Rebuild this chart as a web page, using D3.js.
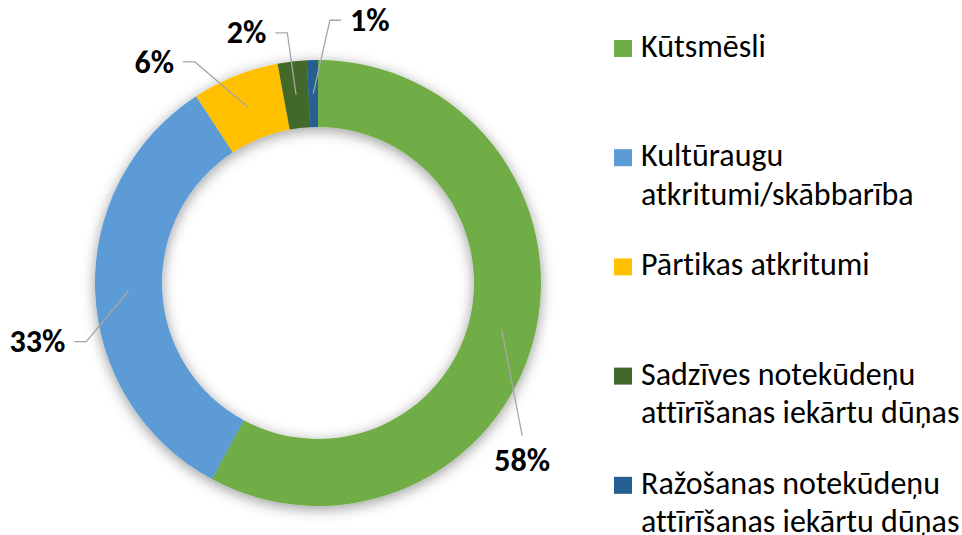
<!DOCTYPE html>
<html>
<head>
<meta charset="utf-8">
<script src="https://cdn.jsdelivr.net/npm/d3@7"></script>
<style>
    html, body { margin: 0; padding: 0; background: #fff; }
    svg { display: block; }
    text { font-family: Calibri, Carlito, "Open Sans", sans-serif; font-variant-ligatures: none; }
</style>
</head>
<body>
<svg id="chart" width="962" height="535"></svg>
<script>
// Chart data
const categories = [
    'Kūtsmēsli',
    'Kultūraugu atkritumi/skābbarība',
    'Pārtikas atkritumi',
    'Sadzīves notekūdeņu attīrīšanas iekārtu dūņas',
    'Ražošanas notekūdeņu attīrīšanas iekārtu dūņas'
];
const shares = [57.9, 32.9, 6.3, 2.1, 0.8];
const colors = ['#70AD47', '#5B9BD5', '#FFC000', '#43682B', '#255E91'];

// where Excel put each data label (polar, from the donut centre)
const labelAngles = [126.8, 255.8, 330.9, 353.0, 2.6];
const labelRadii = [255, 239, 253, 252, 263];
const labelSides = ['below', 'left', 'left', 'left', 'right'];

const svg = d3.select('#chart');
const cx = 318, cy = 283;
const outerR = 223, innerR = 156;

// soft shadow under the ring
const defs = svg.append('defs');
const shadow = defs.append('filter')
    .attr('id', 'ringShadow')
    .attr('x', '-20%').attr('y', '-20%')
    .attr('width', '140%').attr('height', '140%');
shadow.append('feDropShadow')
    .attr('dx', 0)
    .attr('dy', 3)
    .attr('stdDeviation', 7)
    .attr('flood-color', '#000')
    .attr('flood-opacity', 0.4);

const data = categories.map((c, i) => ({ name: c, value: shares[i], color: colors[i] }));

const pie = d3.pie()
    .value(d => d.value)
    .sort(null);
const arcs = pie(data);

const arc = d3.arc()
    .innerRadius(innerR)
    .outerRadius(outerR);

const g = svg.append('g')
    .attr('transform', `translate(${cx},${cy})`);

g.append('g')
    .attr('filter', 'url(#ringShadow)')
    .selectAll('path')
    .data(arcs)
    .join('path')
    .attr('d', arc)
    .attr('fill', d => d.data.color);

// leader lines + labels
const pct = d => Math.round(d.data.value) + '%';

arcs.forEach((d, i) => {
    const start = arc.centroid(d);
    const elbow = d3.pointRadial(labelAngles[i] * Math.PI / 180, labelRadii[i]);
    const side = labelSides[i];
    const pts = [start, elbow];
    let tx, ty, dy, anchor;

    if (side === 'left') {
        pts.push([elbow[0] - 12, elbow[1]]);
        tx = elbow[0] - 21; ty = elbow[1]; dy = '0.33em'; anchor = 'end';
    } else if (side === 'right') {
        pts.push([elbow[0] + 11, elbow[1]]);
        tx = elbow[0] + 20; ty = elbow[1]; dy = '0.33em'; anchor = 'start';
    } else {
        tx = elbow[0]; ty = elbow[1] + 35; dy = 0; anchor = 'middle';
    }

    g.append('path')
        .attr('d', d3.line()(pts))
        .attr('fill', 'none')
        .attr('stroke', '#A6A6A6')
        .attr('stroke-width', 1.3);

    g.append('text')
        .attr('x', tx)
        .attr('y', ty)
        .attr('dy', dy)
        .attr('text-anchor', anchor)
        .attr('font-size', '32px')
        .attr('font-weight', 'bold')
        .attr('fill', '#000')
        .text(pct(d));
});

// legend
const legendX = 614, legendTop = 57, legendStep = 109.2, lineH = 38.5;
const legendW = 335;

const legend = svg.append('g').attr('class', 'legend');

data.forEach((d, i) => {
    const y = legendTop + i * legendStep;
    legend.append('rect')
        .attr('x', legendX)
        .attr('y', y - 17)
        .attr('width', 18)
        .attr('height', 17)
        .attr('fill', d.color);

    const t = legend.append('text')
        .attr('x', legendX + 27)
        .attr('y', y)
        .attr('font-size', '32px')
        .attr('fill', '#000');

    // wrap words to the legend width
    const words = d.name.split(' ');
    let line = [], lineNo = 0;
    let tspan = t.append('tspan').attr('x', legendX + 27).attr('y', y);
    words.forEach(w => {
        line.push(w);
        tspan.text(line.join(' '));
        if (line.length > 1 && tspan.node().getComputedTextLength() > legendW) {
            line.pop();
            tspan.text(line.join(' '));
            line = [w];
            lineNo++;
            tspan = t.append('tspan')
                .attr('x', legendX + 27)
                .attr('y', y + lineNo * lineH)
                .text(w);
        }
    });
});
</script>
</body>
</html>
